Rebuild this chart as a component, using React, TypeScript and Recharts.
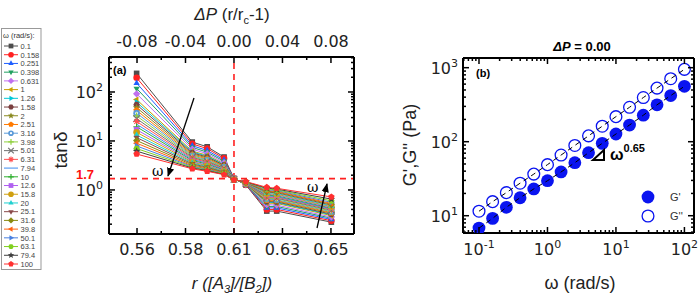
import React from 'react';
import { LineChart, Line, XAxis, YAxis, ReferenceLine } from 'recharts';

// ---- panel (a): tan delta vs r, one series per frequency ----
const omegaLabels = ['0.1', '0.158', '0.251', '0.398', '0.631', '1', '1.26', '1.58', '2', '2.51', '3.16', '3.98', '5.01',
  '6.31', '7.94', '10', '12.6', '15.8', '20', '25.1', '31.6', '39.8', '50.1', '63.1', '79.4', '100'];

const seriesColors = ['#4d4d4d', '#ff2020', '#1f5fff', '#20a060', '#c070f0', '#c8a000', '#00c8d8', '#7a4040', '#8a8a20',
  '#ff7a00', '#5a9ad8', '#90d040', '#707070', '#ff5050', '#3c8cf0', '#30b030', '#b060f0', '#d0a010', '#20d0d0',
  '#8a4a4a', '#8a8a10', '#ff6010', '#4a80e0', '#80d020', '#404040', '#ff3030'];

const seriesShapes = ['square', 'circle', 'triUp', 'triDown', 'diamond', 'triLeft', 'triRight', 'hexagon', 'star',
  'pentagon', 'ring', 'plus', 'cross', 'asterisk', 'none', 'plus', 'square', 'circle', 'triUp', 'triDown', 'diamond',
  'triLeft', 'triRight', 'hexagon', 'star', 'pentagon'];

const rValues = [0.561, 0.589, 0.5965, 0.605, 0.61, 0.616, 0.6265, 0.6315, 0.659];

// tan delta per r column, omega 0.1 -> 100
const tanR0561 = [240, 195, 152, 118, 92, 70, 62, 55, 48, 42, 37, 32.5, 28.5, 25, 22, 19.5, 17, 15, 13.2, 11.7, 10.2, 9, 7.9, 7, 6.2, 5.4];
const tanR0589 = [9.5, 8.7, 8.0, 7.4, 6.8, 6.2, 5.95, 5.7, 5.45, 5.2, 5.0, 4.8, 4.6, 4.4, 4.2, 4.0, 3.85, 3.7, 3.55, 3.4, 3.25, 3.1, 3.0, 2.9, 2.8, 2.7];
const tanR0597 = [7.6, 7.0, 6.4, 5.9, 5.5, 5.1, 4.9, 4.7, 4.5, 4.3, 4.1, 3.95, 3.8, 3.65, 3.5, 3.35, 3.2, 3.1, 3.0, 2.9, 2.8, 2.7, 2.62, 2.55, 2.48, 2.4];
const tanR0605 = [4.7, 4.4, 4.1, 3.85, 3.6, 3.4, 3.3, 3.2, 3.1, 3.0, 2.92, 2.84, 2.76, 2.68, 2.6, 2.53, 2.46, 2.4, 2.35, 2.3, 2.25, 2.2, 2.16, 2.12, 2.08, 2.05];
const tanR0610 = [1.72, 1.71, 1.7, 1.7, 1.69, 1.68, 1.68, 1.67, 1.67, 1.66, 1.66, 1.65, 1.65, 1.65, 1.64, 1.64, 1.64, 1.63, 1.63, 1.63, 1.62, 1.62, 1.62, 1.61, 1.61, 1.6];
const tanR0616 = [1.26, 1.27, 1.28, 1.29, 1.3, 1.31, 1.32, 1.33, 1.33, 1.34, 1.35, 1.36, 1.36, 1.37, 1.38, 1.39, 1.39, 1.4, 1.41, 1.42, 1.42, 1.43, 1.44, 1.45, 1.46, 1.48];
const tanR0627 = [0.37, 0.4, 0.43, 0.46, 0.5, 0.54, 0.56, 0.58, 0.6, 0.62, 0.65, 0.67, 0.7, 0.72, 0.75, 0.78, 0.81, 0.84, 0.87, 0.9, 0.94, 0.97, 1.01, 1.05, 1.09, 1.13];
const tanR0632 = [0.37, 0.4, 0.43, 0.46, 0.49, 0.53, 0.55, 0.57, 0.59, 0.61, 0.63, 0.66, 0.68, 0.71, 0.73, 0.76, 0.79, 0.82, 0.85, 0.88, 0.91, 0.94, 0.97, 1.0, 1.04, 1.08];
const tanR0659 = [0.22, 0.235, 0.25, 0.265, 0.28, 0.3, 0.31, 0.32, 0.335, 0.345, 0.36, 0.37, 0.385, 0.4, 0.41, 0.425, 0.44, 0.455, 0.47, 0.49, 0.51, 0.53, 0.56, 0.6, 0.65, 0.72];

const tanColumns = [tanR0561, tanR0589, tanR0597, tanR0605, tanR0610, tanR0616, tanR0627, tanR0632, tanR0659];

// axis ticks for (a): r positions of DeltaP = -0.08 ... 0.08
const rTicks = [0.5612, 0.5734, 0.5856, 0.5978, 0.61, 0.6222, 0.6344, 0.6466, 0.6588];
const rMajor = [0.5612, 0.5856, 0.61, 0.6344, 0.6588];
const rLabels = ['0.56', '0.58', '0.61', '0.63', '0.65'];
const dpLabels = ['-0.08', '-0.04', '0.00', '0.04', '0.08'];
const tanTicks = [0.2, 0.3, 0.4, 0.5, 0.6, 0.7, 0.8, 0.9, 1, 2, 3, 4, 5, 6, 7, 8, 9, 10, 20, 30, 40, 50, 60, 70, 80, 90, 100, 200, 300, 400, 500];
const tanMajor = [1, 10, 100];
const tanMajorExp = ['0', '1', '2'];

// ---- panel (b): G', G'' vs omega ----
const freq = [0.1, 0.158, 0.251, 0.398, 0.631, 1, 1.58, 2.51, 3.98, 6.31, 10, 15.8, 25.1, 39.8, 63.1, 100];
const gPrime = [6.8, 9.2, 13, 17.5, 23, 29.7, 39, 52, 71, 95, 127, 168, 228, 315, 420, 560];
const gDoublePrime = [11.5, 15.5, 20.5, 27.5, 36.5, 49, 66, 89, 120, 162, 218, 292, 395, 530, 710, 950];

const wTicks = [0.06, 0.07, 0.08, 0.09, 0.1, 0.2, 0.3, 0.4, 0.5, 0.6, 0.7, 0.8, 0.9, 1, 2, 3, 4, 5, 6, 7, 8, 9, 10, 20, 30, 40, 50, 60, 70, 80, 90, 100];
const wMajor = [0.1, 1, 10, 100];
const wMajorExp = ['-1', '0', '1', '2'];
const gTicks = [6, 7, 8, 9, 10, 20, 30, 40, 50, 60, 70, 80, 90, 100, 200, 300, 400, 500, 600, 700, 800, 900, 1000];
const gMajor = [10, 100, 1000];
const gMajorExp = ['1', '2', '3'];

const FONT = '"Liberation Sans", Arial, sans-serif';
const TICK_FONT = '"DejaVu Sans", sans-serif';
const BLUE = '#0a14f0';

const tanData = rValues.map((r, j) => {
  const row: Record<string, number> = { r };
  omegaLabels.forEach((_, i) => { row['s' + i] = tanColumns[j][i]; });
  return row;
});

const gData = freq.map((w, i) => ({ w, gp: gPrime[i], gpp: gDoublePrime[i] }));

function poly(cx: number, cy: number, r: number, n: number, rot: number) {
  const pts: string[] = [];
  for (let k = 0; k < n; k++) {
    const a = rot + (k * 2 * Math.PI) / n;
    pts.push(`${cx + r * Math.cos(a)},${cy + r * Math.sin(a)}`);
  }
  return pts.join(' ');
}

function starPts(cx: number, cy: number, r: number) {
  const pts: string[] = [];
  for (let k = 0; k < 10; k++) {
    const a = -Math.PI / 2 + (k * Math.PI) / 5;
    const rr = k % 2 === 0 ? r : r * 0.45;
    pts.push(`${cx + rr * Math.cos(a)},${cy + rr * Math.sin(a)}`);
  }
  return pts.join(' ');
}

function Marker({ shape, cx, cy, s, color }: { shape: string; cx: number; cy: number; s: number; color: string }) {
  switch (shape) {
    case 'square':
      return <rect x={cx - s * 0.85} y={cy - s * 0.85} width={s * 1.7} height={s * 1.7} fill={color} />;
    case 'circle':
      return <circle cx={cx} cy={cy} r={s} fill={color} />;
    case 'ring':
      return (
        <g>
          <circle cx={cx} cy={cy} r={s} fill={color} />
          <circle cx={cx} cy={cy} r={s * 0.4} fill="#fff" />
        </g>
      );
    case 'triUp':
      return <polygon points={poly(cx, cy, s * 1.1, 3, -Math.PI / 2)} fill={color} />;
    case 'triDown':
      return <polygon points={poly(cx, cy, s * 1.1, 3, Math.PI / 2)} fill={color} />;
    case 'triLeft':
      return <polygon points={poly(cx, cy, s * 1.1, 3, Math.PI)} fill={color} />;
    case 'triRight':
      return <polygon points={poly(cx, cy, s * 1.1, 3, 0)} fill={color} />;
    case 'diamond':
      return <polygon points={poly(cx, cy, s * 1.1, 4, 0)} fill={color} />;
    case 'hexagon':
      return <polygon points={poly(cx, cy, s, 6, 0)} fill={color} />;
    case 'pentagon':
      return <polygon points={poly(cx, cy, s * 1.05, 5, -Math.PI / 2)} fill={color} />;
    case 'star':
      return <polygon points={starPts(cx, cy, s * 1.2)} fill={color} />;
    case 'plus':
      return <path d={`M${cx - s},${cy}H${cx + s}M${cx},${cy - s}V${cy + s}`} stroke={color} strokeWidth={1.2} />;
    case 'cross':
      return <path d={`M${cx - s},${cy - s}L${cx + s},${cy + s}M${cx - s},${cy + s}L${cx + s},${cy - s}`} stroke={color} strokeWidth={1.2} />;
    case 'asterisk':
      return (
        <path
          d={`M${cx - s},${cy}H${cx + s}M${cx},${cy - s}V${cy + s}M${cx - s * 0.7},${cy - s * 0.7}L${cx + s * 0.7},${cy + s * 0.7}M${cx - s * 0.7},${cy + s * 0.7}L${cx + s * 0.7},${cy - s * 0.7}`}
          stroke={color}
          strokeWidth={1.1}
        />
      );
    default:
      return null;
  }
}

// custom tick: inward tick marks, label only on majors
type Side = 'left' | 'right' | 'top' | 'bottom';
const GAP = 8;
function makeTick(side: Side, majors: number[], label?: (idx: number) => React.ReactNode, off = 0) {
  return (props: any) => {
    const { x, y, payload } = props;
    const idx = majors.indexOf(payload.value);
    const len = idx >= 0 ? 6 : 3;
    let tick: React.ReactNode = null;
    let txt: React.ReactNode = null;
    const tp = { fill: '#222', fontSize: 16, fontFamily: TICK_FONT };
    if (side === 'bottom') {
      const ay = y - GAP;
      tick = <line x1={x} x2={x} y1={ay} y2={ay - len} stroke="#000" strokeWidth={1.5} />;
      if (idx >= 0 && label) txt = <text x={x} y={ay + off} textAnchor="middle" {...tp}>{label(idx)}</text>;
    } else if (side === 'top') {
      const ay = y + GAP;
      tick = <line x1={x} x2={x} y1={ay} y2={ay + len} stroke="#000" strokeWidth={1.5} />;
      if (idx >= 0 && label) txt = <text x={x} y={ay - off} textAnchor="middle" {...tp}>{label(idx)}</text>;
    } else if (side === 'left') {
      const ax = x + GAP;
      tick = <line x1={ax} x2={ax + len} y1={y} y2={y} stroke="#000" strokeWidth={1.5} />;
      if (idx >= 0 && label) txt = <text x={ax - off} y={y + 6} textAnchor="end" {...tp}>{label(idx)}</text>;
    } else {
      const ax = x - GAP;
      tick = <line x1={ax} x2={ax - len} y1={y} y2={y} stroke="#000" strokeWidth={1.5} />;
    }
    return (
      <g>
        {tick}
        {txt}
      </g>
    );
  };
}

const pow10 = (exp: string) => (
  <>
    <tspan>10</tspan>
    <tspan fontSize={11} dy={-7}>{exp}</tspan>
  </>
);

const axisLine = { stroke: '#000', strokeWidth: 2 };

function PanelA() {
  return (
    <LineChart width={380} height={302} data={tanData} margin={{ top: 27, right: 16, bottom: 38, left: 69 }}
      style={{ position: 'absolute', left: 0, top: 0 }}>
      <XAxis dataKey="r" type="number" domain={[0.5471, 0.6704]} allowDataOverflow ticks={rTicks} interval={0}
        height={30} tickSize={0} tickMargin={GAP} tickLine={false} axisLine={axisLine}
        tick={makeTick('bottom', rMajor, (i) => rLabels[i], 21)} />
      <XAxis xAxisId="top" orientation="top" dataKey="r" type="number" domain={[0.5471, 0.6704]} allowDataOverflow
        ticks={rTicks} interval={0} height={30} tickSize={0} tickMargin={GAP} tickLine={false} axisLine={axisLine}
        tick={makeTick('top', rMajor, (i) => dpLabels[i], 10)} />
      <YAxis type="number" scale="log" domain={[0.126, 518]} allowDataOverflow ticks={tanTicks} interval={0}
        width={40} tickSize={0} tickMargin={GAP} tickLine={false} axisLine={axisLine}
        tick={makeTick('left', tanMajor, (i) => pow10(tanMajorExp[i]), 6)} />
      <YAxis yAxisId="right" orientation="right" type="number" scale="log" domain={[0.126, 518]} allowDataOverflow
        ticks={tanTicks} interval={0} width={10} tickSize={0} tickMargin={GAP} tickLine={false} axisLine={axisLine}
        tick={makeTick('right', tanMajor)} />
      <ReferenceLine y={1.7} stroke="#ff2020" strokeWidth={1.6} strokeDasharray="6 5" />
      <ReferenceLine x={0.61} stroke="#ff2020" strokeWidth={1.6} strokeDasharray="6 5" />
      {omegaLabels.map((w, i) => (
        <Line key={w} dataKey={'s' + i} name={w} stroke={seriesColors[i]} strokeWidth={1} isAnimationActive={false}
          dot={(p: any) => (
            <g key={`d${i}-${p.index}`}>
              <Marker shape={seriesShapes[i]} cx={p.cx} cy={p.cy} s={3.3} color={seriesColors[i]} />
            </g>
          )}
          activeDot={false} />
      ))}
    </LineChart>
  );
}

// panel (b) is drawn twice with identical axes: markers + frame, then the dashed fits on top
function PanelB({ fits }: { fits: boolean }) {
  const al = fits ? false : axisLine;
  return (
    <LineChart width={330} height={302} data={gData} margin={{ top: 48, right: 2, bottom: 39, left: 53 }}
      style={{ position: 'absolute', left: 370, top: 0 }}>
      <XAxis dataKey="w" type="number" scale="log" domain={[0.0584, 138]} allowDataOverflow ticks={wTicks} interval={0}
        height={30} tickSize={0} tickMargin={GAP} tickLine={false} axisLine={al}
        tick={fits ? false : makeTick('bottom', wMajor, (i) => pow10(wMajorExp[i]), 22)} />
      <XAxis xAxisId="top" orientation="top" dataKey="w" type="number" scale="log" domain={[0.0584, 138]} allowDataOverflow
        ticks={wTicks} interval={0} height={10} tickSize={0} tickMargin={GAP} tickLine={false} axisLine={al}
        tick={fits ? false : makeTick('top', wMajor)} />
      <YAxis type="number" scale="log" domain={[5.84, 1352]} allowDataOverflow ticks={gTicks} interval={0}
        width={40} tickSize={0} tickMargin={GAP} tickLine={false} axisLine={al}
        tick={fits ? false : makeTick('left', gMajor, (i) => pow10(gMajorExp[i]), 5)} />
      <YAxis yAxisId="right" orientation="right" type="number" scale="log" domain={[5.84, 1352]} allowDataOverflow
        ticks={gTicks} interval={0} width={4} tickSize={0} tickMargin={GAP} tickLine={false} axisLine={al}
        tick={fits ? false : makeTick('right', gMajor)} />
      {fits ? (
        [
          <Line key="fp" dataKey="gp" stroke="#000" strokeWidth={1} strokeDasharray="5 4" dot={false} activeDot={false} isAnimationActive={false} />,
          <Line key="fpp" dataKey="gpp" stroke="#000" strokeWidth={1} strokeDasharray="5 4" dot={false} activeDot={false} isAnimationActive={false} />,
        ]
      ) : (
        [
          <Line key="gp" dataKey="gp" name="G'" stroke="none" isAnimationActive={false} activeDot={false}
            dot={(p: any) => <circle key={`gp${p.index}`} cx={p.cx} cy={p.cy} r={6.4} fill={BLUE} />} />,
          <Line key="gpp" dataKey="gpp" name="G''" stroke="none" isAnimationActive={false} activeDot={false}
            dot={(p: any) => <circle key={`gpp${p.index}`} cx={p.cx} cy={p.cy} r={5.9} fill="#fff" stroke={BLUE} strokeWidth={1.3} />} />,
        ]
      )}
    </LineChart>
  );
}

function Overlay() {
  const legTop = 46;
  const legStep = 8.72;
  return (
    <svg width={700} height={302} style={{ position: 'absolute', left: 0, top: 0, pointerEvents: 'none' }} fontFamily={FONT}>
      <defs>
        <marker id="arr" viewBox="0 0 10 10" refX="9" refY="5" markerWidth="7" markerHeight="7" orient="auto-start-reverse">
          <path d="M0,1 L10,5 L0,9 z" fill="#000" />
        </marker>
      </defs>
      {/* legend for (a) */}
      <rect x={1.5} y={28.5} width={39.5} height={241} fill="#fff" stroke="#999" strokeWidth={1} />
      <text x={3} y={38} fontSize={7.5} fill="#333">ω (rad/s):</text>
      {omegaLabels.map((w, i) => {
        const cy = legTop + i * legStep;
        return (
          <g key={w}>
            <line x1={4} x2={18} y1={cy} y2={cy} stroke={seriesColors[i]} strokeWidth={1} />
            <Marker shape={seriesShapes[i]} cx={11} cy={cy} s={2.8} color={seriesColors[i]} />
            <text x={20.5} y={cy + 2.8} fontSize={7.5} fill="#444">{w}</text>
          </g>
        );
      })}
      {/* panel (a) labels */}
      <text x={232} y={20} textAnchor="middle" fontSize={17} fill="#222">
        <tspan fontStyle="italic">ΔP</tspan> (r/r<tspan fontSize={11} dy={4}>c</tspan><tspan dy={-4}>-1)</tspan>
      </text>
      <text x={232} y={289} textAnchor="middle" fontSize={17} fill="#222" fontStyle="italic">
        r ([A<tspan fontSize={11} dy={4}>3</tspan><tspan dy={-4}>]/[B</tspan><tspan fontSize={11} dy={4}>2</tspan><tspan dy={-4}>])</tspan>
      </text>
      <text transform="translate(67,150) rotate(-90)" textAnchor="middle" fontSize={19} fill="#222">tanδ</text>
      <text x={94} y={178.5} textAnchor="end" fontSize={13} fontWeight="bold" fill="#ff1010">1.7</text>
      <text x={113} y={74} fontSize={11} fontWeight="bold" fill="#000">(a)</text>
      <line x1={194} y1={98} x2={168} y2={176} stroke="#000" strokeWidth={1.3} markerEnd="url(#arr)" />
      <text x={152} y={176} fontSize={14} fontFamily="DejaVu Serif, serif" fill="#000">ω</text>
      <line x1={317} y1={228} x2={327} y2={184} stroke="#000" strokeWidth={1.3} markerEnd="url(#arr)" />
      <text x={307} y={192} fontSize={14} fontFamily="DejaVu Serif, serif" fill="#000">ω</text>
      {/* panel (b) labels */}
      <text x={582} y={51} textAnchor="middle" fontSize={13} fontWeight="bold" fill="#000">
        <tspan fontStyle="italic">ΔP</tspan> = 0.00
      </text>
      <text x={476} y={77} fontSize={11} fontWeight="bold" fill="#000">(b)</text>
      <text transform="translate(416,145) rotate(-90)" textAnchor="middle" fontSize={18} fill="#222">G',G'' (Pa)</text>
      <text x={580} y={289} textAnchor="middle" fontSize={18} fill="#222">ω (rad/s)</text>
      <path d="M593,160 L604,160 L604,150 Z" fill="none" stroke="#000" strokeWidth={2} />
      <text x={610} y={160} fontSize={16} fontWeight="bold" fill="#000">ω<tspan fontSize={11} dy={-8}>0.65</tspan></text>
      <circle cx={648} cy={197} r={6.4} fill={BLUE} />
      <text x={670} y={201} fontSize={11} fill="#333">G'</text>
      <circle cx={648} cy={216} r={5.9} fill="#fff" stroke={BLUE} strokeWidth={1.3} />
      <text x={670} y={220} fontSize={11} fill="#333">G''</text>
    </svg>
  );
}

export default function App() {
  return (
    <div style={{ position: 'absolute', left: 0, top: 0, width: 700, height: 302, background: '#fff', fontFamily: FONT }}>
      <PanelA />
      <PanelB fits={false} />
      <PanelB fits={true} />
      <Overlay />
    </div>
  );
}
